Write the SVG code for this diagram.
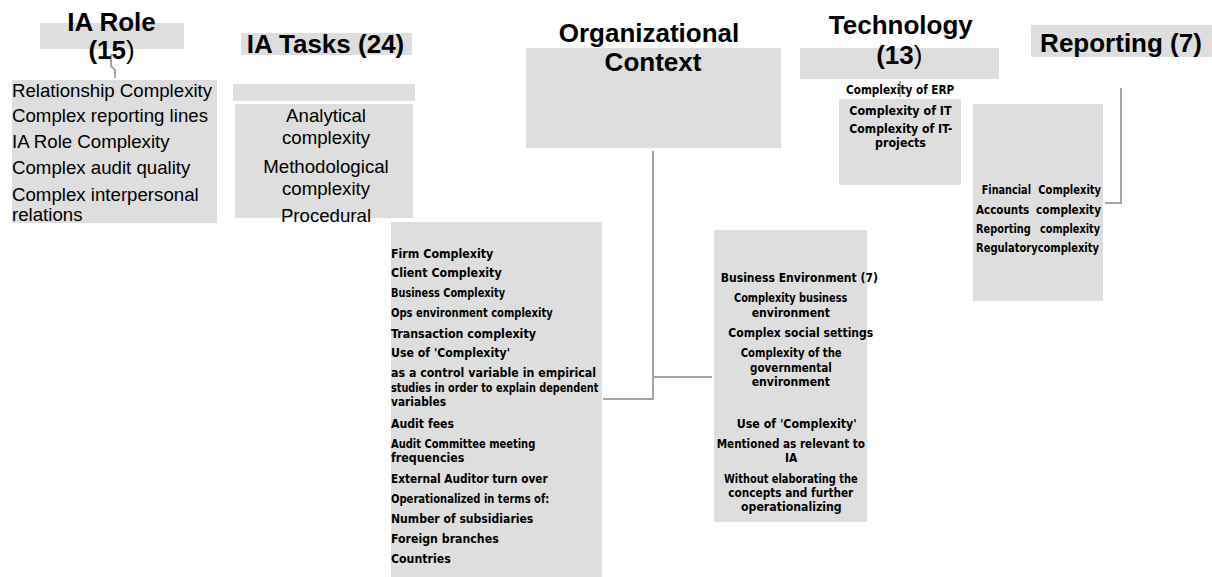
<svg xmlns="http://www.w3.org/2000/svg" width="1212" height="577" viewBox="0 0 1212 577">
<style>
.box{fill:#dedede}
.hd{font-family:"Liberation Sans",Arial,sans-serif;font-weight:bold;font-size:26px;fill:#000;text-anchor:middle}
.rg{font-family:"Liberation Sans",Arial,sans-serif;font-size:18.67px;fill:#000}
.sm{font-family:"DejaVu Sans Condensed","DejaVu Sans",sans-serif;font-weight:bold;font-size:12px;fill:#000}
.cn{fill:none;stroke:#a6a6a6;stroke-width:2}
.thin{font-weight:normal}
</style>
<rect width="1212" height="577" fill="#fff"/>
<g id="connectors">
<polyline class="cn" points="111,54 111,66 115,70 115,78"/>
<line class="cn" x1="653" y1="151" x2="653" y2="399"/>
<line class="cn" x1="603" y1="399" x2="654" y2="399"/>
<line class="cn" x1="653" y1="377" x2="712" y2="377"/>
<line class="cn" x1="900" y1="81" x2="900" y2="97"/>
<polyline class="cn" points="1121,88 1121,203 1105,203"/>
</g>
<g id="ia-role">
<rect class="box" x="40" y="23" width="144" height="26"/>
<text class="hd" x="111.5" y="31">IA Role</text>
<text class="hd" x="111.5" y="58.5">(15<tspan class="thin">)</tspan></text>
</g>
<g id="ia-role-list">
<rect class="box" x="12" y="80" width="205" height="143"/>
<text class="rg" x="12" y="96.7">Relationship Complexity</text>
<text class="rg" x="12" y="122.4">Complex reporting lines</text>
<text class="rg" x="12" y="148.4">IA Role Complexity</text>
<text class="rg" x="12" y="174">Complex audit quality</text>
<text class="rg" x="12" y="201">Complex interpersonal</text>
<text class="rg" x="12" y="221">relations</text>
</g>
<g id="ia-tasks">
<rect class="box" x="241" y="33" width="171" height="22"/>
<text class="hd" x="325.5" y="52.7">IA Tasks (24)</text>
</g>
<g id="ia-tasks-bar">
<rect class="box" x="233" y="84" width="182" height="17"/>
</g>
<g id="ia-tasks-list">
<rect class="box" x="235" y="104" width="178" height="114"/>
<text class="rg" x="326" y="122.4" text-anchor="middle">Analytical</text>
<text class="rg" x="326" y="143.5" text-anchor="middle">complexity</text>
<text class="rg" x="326" y="172.7" text-anchor="middle">Methodological</text>
<text class="rg" x="326" y="195" text-anchor="middle">complexity</text>
<text class="rg" x="326" y="221.7" text-anchor="middle">Procedural</text>
</g>
<g id="org-context">
<rect class="box" x="526" y="48" width="255" height="100"/>
<text class="hd" x="649" y="42.3">Organizational</text>
<text class="hd" x="653" y="71">Context</text>
</g>
<g id="org-firm">
<rect class="box" x="391" y="222" width="211" height="355"/>
<text class="sm" x="391" y="257.7" textLength="102.3" lengthAdjust="spacingAndGlyphs">Firm Complexity</text>
<text class="sm" x="391" y="276.7" textLength="110.7" lengthAdjust="spacingAndGlyphs">Client Complexity</text>
<text class="sm" x="391" y="296.7" textLength="114" lengthAdjust="spacingAndGlyphs" font-size="11">Business Complexity</text>
<text class="sm" x="391" y="316.7" textLength="161.7" lengthAdjust="spacingAndGlyphs" font-size="11">Ops environment complexity</text>
<text class="sm" x="391" y="337.7" textLength="145" lengthAdjust="spacingAndGlyphs">Transaction complexity</text>
<text class="sm" x="391" y="356.7" textLength="119" lengthAdjust="spacingAndGlyphs">Use of 'Complexity'</text>
<text class="sm" x="391" y="377.3" textLength="205" lengthAdjust="spacingAndGlyphs">as a control variable in empirical</text>
<text class="sm" x="391" y="391.7" textLength="207.3" lengthAdjust="spacingAndGlyphs" font-size="11">studies in order to explain dependent</text>
<text class="sm" x="391" y="406" textLength="55" lengthAdjust="spacingAndGlyphs">variables</text>
<text class="sm" x="391" y="427.7" textLength="63" lengthAdjust="spacingAndGlyphs">Audit fees</text>
<text class="sm" x="391" y="447.7" textLength="144.3" lengthAdjust="spacingAndGlyphs" font-size="11">Audit Committee meeting</text>
<text class="sm" x="391" y="461.7" textLength="73.3" lengthAdjust="spacingAndGlyphs">frequencies</text>
<text class="sm" x="391" y="483.3" textLength="156.7" lengthAdjust="spacingAndGlyphs" font-size="11">External Auditor turn over</text>
<text class="sm" x="391" y="503.3" textLength="158.3" lengthAdjust="spacingAndGlyphs" font-size="11">Operationalized in terms of:</text>
<text class="sm" x="391" y="523.3" textLength="142.3" lengthAdjust="spacingAndGlyphs">Number of subsidiaries</text>
<text class="sm" x="391" y="543.3" textLength="107.7" lengthAdjust="spacingAndGlyphs">Foreign branches</text>
<text class="sm" x="391" y="562.7" textLength="59.7" lengthAdjust="spacingAndGlyphs">Countries</text>
</g>
<g id="org-business-env">
<rect class="box" x="714" y="230" width="153" height="292"/>
<text class="sm" x="720.7" y="281.7" textLength="157.3" lengthAdjust="spacingAndGlyphs" font-size="11">Business Environment (7)</text>
<text class="sm" x="734" y="301.7" textLength="113.3" lengthAdjust="spacingAndGlyphs" font-size="11">Complexity business</text>
<text class="sm" x="751.7" y="316.7" textLength="78.3" lengthAdjust="spacingAndGlyphs" font-size="11">environment</text>
<text class="sm" x="728.3" y="337.3" textLength="145" lengthAdjust="spacingAndGlyphs">Complex social settings</text>
<text class="sm" x="740.7" y="357.3" textLength="101" lengthAdjust="spacingAndGlyphs" font-size="11">Complexity of the</text>
<text class="sm" x="750" y="371.7" textLength="81.7" lengthAdjust="spacingAndGlyphs" font-size="11">governmental</text>
<text class="sm" x="751.7" y="386" textLength="78.3" lengthAdjust="spacingAndGlyphs" font-size="11">environment</text>
<text class="sm" x="736.7" y="427.7" textLength="120" lengthAdjust="spacingAndGlyphs">Use of 'Complexity'</text>
<text class="sm" x="716.7" y="447.7" textLength="148.3" lengthAdjust="spacingAndGlyphs" font-size="11">Mentioned as relevant to</text>
<text class="sm" x="785" y="462.3" textLength="12.3" lengthAdjust="spacingAndGlyphs" font-size="11">IA</text>
<text class="sm" x="724" y="482.7" textLength="133.7" lengthAdjust="spacingAndGlyphs" font-size="11">Without elaborating the</text>
<text class="sm" x="728.3" y="496.7" textLength="125" lengthAdjust="spacingAndGlyphs" font-size="11">concepts and further</text>
<text class="sm" x="741" y="511" textLength="100.7" lengthAdjust="spacingAndGlyphs" font-size="11">operationalizing</text>
</g>
<g id="technology">
<rect class="box" x="800" y="48" width="199" height="31"/>
<text class="hd" x="900.8" y="34.3">Technology</text>
<text class="hd" x="899.3" y="64">(13<tspan class="thin">)</tspan></text>
</g>
<g id="technology-list">
<rect class="box" x="839" y="99" width="122" height="86"/>
<text class="sm" x="846" y="94" textLength="108.3" lengthAdjust="spacingAndGlyphs" font-size="11">Complexity of ERP</text>
<text class="sm" x="849.3" y="115" textLength="102.3" lengthAdjust="spacingAndGlyphs" font-size="11">Complexity of IT</text>
<text class="sm" x="849.3" y="133.3" textLength="103" lengthAdjust="spacingAndGlyphs" font-size="11">Complexity of IT-</text>
<text class="sm" x="875" y="147" textLength="51" lengthAdjust="spacingAndGlyphs" font-size="11">projects</text>
</g>
<g id="reporting">
<rect class="box" x="1031" y="25" width="181" height="32"/>
<text class="hd" x="1121" y="52.3">Reporting (7)</text>
</g>
<g id="reporting-list">
<rect class="box" x="973" y="104" width="130" height="197"/>
<text class="sm" y="193.7" font-size="11"><tspan x="981.7" textLength="49.3" lengthAdjust="spacingAndGlyphs">Financial</tspan> <tspan x="1038.3" textLength="62.7" lengthAdjust="spacingAndGlyphs">Complexity</tspan></text>
<text class="sm" y="213.8" font-size="11"><tspan x="976" textLength="53.3" lengthAdjust="spacingAndGlyphs">Accounts</tspan> <tspan x="1036" textLength="65" lengthAdjust="spacingAndGlyphs">complexity</tspan></text>
<text class="sm" y="232.5" font-size="11"><tspan x="976" textLength="54.7" lengthAdjust="spacingAndGlyphs">Reporting</tspan> <tspan x="1040" textLength="60" lengthAdjust="spacingAndGlyphs">complexity</tspan></text>
<text class="sm" x="976" y="251.7" textLength="123" lengthAdjust="spacingAndGlyphs" font-size="11">Regulatorycomplexity</text>
</g>
</svg>
